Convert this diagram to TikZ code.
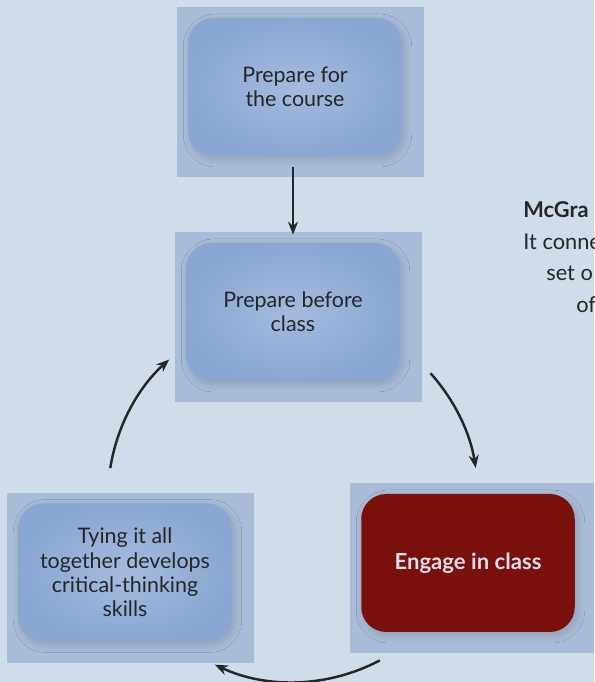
\documentclass[tikz,border=0pt]{standalone}
\usepackage{fontspec}
\setmainfont{Lato}
\usetikzlibrary{arrows.meta,shadows.blur}

\definecolor{bgblue}{HTML}{D0DCEA}
\definecolor{panelblue}{HTML}{A9BCD7}
\definecolor{cardlight}{HTML}{A4BBDE}
\definecolor{carddark}{HTML}{8AA6D2}
\definecolor{engagered}{HTML}{7A100C}
\definecolor{engagetext}{HTML}{D8DEEA}
\definecolor{ink}{HTML}{262626}

\begin{document}
\begin{tikzpicture}[
    panel/.style={fill=panelblue, minimum width=4.94cm, minimum height=3.40cm, inner sep=0pt},
    cardbase/.style={rounded corners=0.5cm, minimum width=4.27cm, minimum height=2.76cm, align=center, inner sep=0pt,
        font=\fontsize{12.2}{13.8}\selectfont, text=ink,
        blur shadow={shadow xshift=0.05cm, shadow yshift=-0.07cm, shadow opacity=15, shadow blur radius=0.15cm, shadow blur steps=12}},
    card/.style={cardbase, shading=radial, inner color=cardlight, outer color=carddark},
    hotcard/.style={cardbase, fill=engagered, text=engagetext, font=\fontsize{12.6}{13.8}\selectfont\bfseries},
    arrow/.style={-{Stealth[length=0.26cm, width=0.2cm]}, line width=1.4pt, draw=ink},
    note/.style={anchor=base west, inner sep=0pt, font=\fontsize{12.4}{18}\selectfont, text=ink}
]
    \useasboundingbox (0,0) rectangle (11.88,13.64);
    \clip (0,0) rectangle (11.88,13.64);
    \fill[bgblue] (0,0) rectangle (11.88,13.64);

    % panels behind the cards
    \node[panel] (coursepanel) at (6.01,11.80) {};
    \node[panel] (beforepanel) at (5.97,7.30) {};
    \node[panel] (engagepanel) at (9.47,2.28) {};
    \node[panel] (tyingpanel) at (2.61,2.09) {};

    % cards
    \node[card] (course) at ([shift={(-0.11,0.10)}]coursepanel) {Prepare for\\the course};
    \node[card] (before) at ([shift={(-0.11,0.10)}]beforepanel) {Prepare before\\class};
    \node[hotcard] (engage) at ([shift={(-0.11,0.10)}]engagepanel) {Engage in class};
    \node[card] (tying) at ([shift={(-0.11,0.10)}]tyingpanel) {Tying it all\\together develops\\critical-thinking\\skills};

    % cycle
    \coordinate (hub) at (5.86,3.70);
    \draw[arrow] ([yshift=-0.22cm]course.south -| before.north) -- ([yshift=0.16cm]before.north);
    \draw[arrow] ([shift={(42:3.7)}]hub) arc[start angle=42, end angle=9, radius=3.7];
    \draw[arrow] ([shift={(-62:3.7)}]hub) arc[start angle=-62, end angle=-115, radius=3.7];
    \draw[arrow] ([shift={(171:3.7)}]hub) arc[start angle=171, end angle=132, radius=3.7];

    % text cut off at the right edge
    \node[note, font=\fontsize{12.4}{18}\selectfont\bfseries] (note1) at (10.46,9.30) {McGra};
    \node[note] (note2) at (10.46,8.66) {It conne};
    \node[note] (note3) at (10.92,8.02) {set o};
    \node[note] (note4) at (11.52,7.38) {of};
\end{tikzpicture}
\end{document}
